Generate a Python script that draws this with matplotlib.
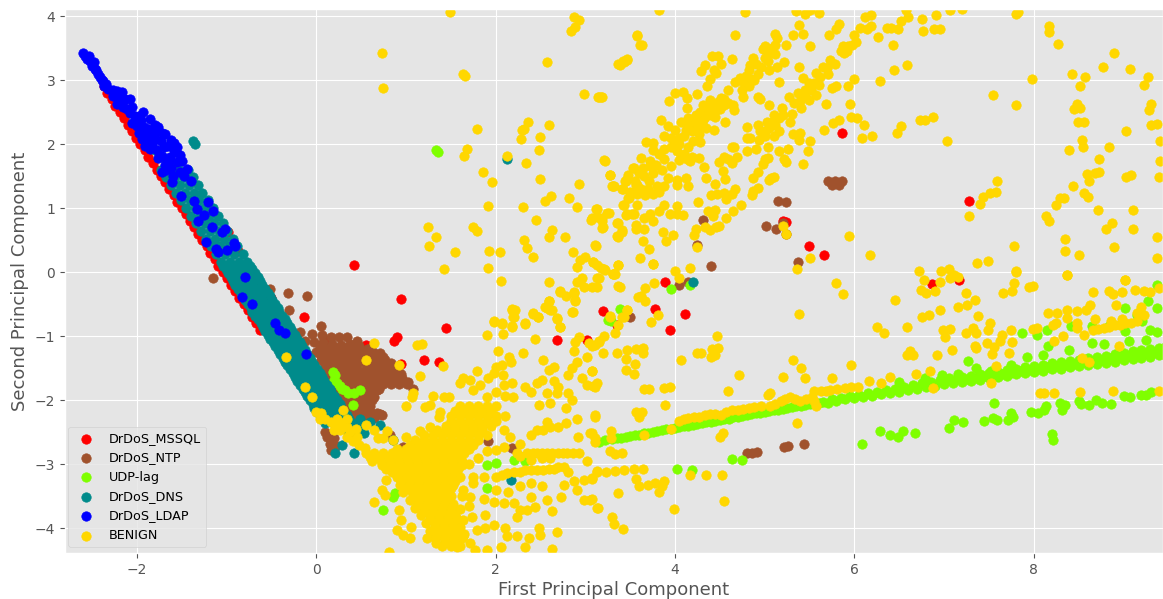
import matplotlib
matplotlib.use("Agg")
import matplotlib.pyplot as plt

labels = ['DrDoS_MSSQL', 'DrDoS_NTP', 'UDP-lag', 'DrDoS_DNS', 'DrDoS_LDAP', 'BENIGN']
colors = ['red', 'sienna', 'chartreuse', 'darkcyan', 'blue', 'gold']

# all values
mssql_edge = [(-2.37,2.9),(-2.33,2.8),(-2.28,2.7),(-2.24,2.6),(-2.19,2.5),(-2.14,2.4),(-2.10,2.3),(-2.05,2.2),
    (-2.01,2.1),(-1.96,2.0),(-1.91,1.9),(-1.87,1.8),(-1.82,1.7),(-1.78,1.6),(-1.73,1.5),(-1.68,1.4),(-1.64,1.3),
    (-1.59,1.2),(-1.55,1.1),(-1.5,1.0),(-1.45,.9),(-1.41,.8),(-1.36,.7),(-1.32,.6),(-1.27,.5),(-1.22,.4),(-1.18,.3),
    (-1.13,.2),(-1.09,.1),(-1.04,0),(-.99,-.1),(-.95,-.2),(-.9,-.3),(-.86,-.4),(-.81,-.5),(-.76,-.6),(-.72,-.7),
    (-.67,-.8),(-.63,-.9),(-.98,.62),(-.87,.33),(-.61,-.21),(-.5,-.4)]
mssql_other = [(.42,.11),(.95,-.42),(-.14,-.71),(.9,-1.01),(.87,-1.07),(1.45,-.88),(.1,-1.06),(.55,-1.14),(.95,-1.43),
    (1.2,-1.38),(1.37,-1.4),(2.68,-1.06),(3.02,-1.06),(3.2,-.61),(3.89,-.15),(3.78,-.58),(4.11,-.66),(3.94,-.91),
    (3.35,-.82),(6.86,-.18),(7.17,-.13),(5.86,2.18),(7.28,1.11),(5.2,.79),(5.24,.78),(5.49,.40),(5.66,.26)]

ntp_blob = [(-.12,-1.08),(-.02,-1.1),(.08,-1.1),(.18,-1.12),(.28,-1.14),(.38,-1.12),(.48,-1.16),(.58,-1.2),
    (0,-1.25),(.09,-1.25),(.18,-1.25),(.27,-1.25),(.36,-1.25),(.45,-1.25),(.54,-1.25),(.63,-1.25),(.71,-1.27),
    (.05,-1.38),(.14,-1.38),(.23,-1.38),(.32,-1.38),(.41,-1.38),(.5,-1.38),(.59,-1.38),(.68,-1.38),(.77,-1.38),(.83,-1.42),
    (.1,-1.51),(.19,-1.51),(.28,-1.51),(.37,-1.51),(.46,-1.51),(.55,-1.51),(.64,-1.51),(.73,-1.51),(.82,-1.51),(.91,-1.53),
    (.15,-1.64),(.24,-1.64),(.33,-1.64),(.42,-1.64),(.51,-1.64),(.6,-1.64),(.69,-1.64),(.78,-1.64),(.87,-1.64),(.96,-1.66),
    (.2,-1.77),(.29,-1.77),(.38,-1.77),(.47,-1.77),(.56,-1.77),(.65,-1.77),(.74,-1.75),(.83,-1.75),(.92,-1.75),(1.01,-1.75),(1.08,-1.82),
    (.25,-1.9),(.34,-1.9),(.43,-1.9),(.52,-1.9),(.61,-1.88),(.68,-1.85),
    (.28,-2.03),(.37,-2.03),(.46,-2.03),(.55,-2.03),(.62,-2.0),
    (.32,-2.16),(.41,-2.16),(.5,-2.16),(.59,-2.16),(.68,-2.2),(.73,-2.23),
    (.37,-2.28),(.46,-2.28),(.55,-2.28),(.64,-2.28),
    (.12,-2.57),(.15,-2.68),(.16,-2.78),(.22,-2.72),(.1,-2.5),(.2,-2.6)]
ntp_fill = [(.04,-1.18),(.13,-1.18),(.22,-1.18),(.31,-1.18),(.4,-1.18),(.49,-1.2),(.58,-1.2),(.05,-1.31),(.14,-1.31),(.23,-1.31),(.32,-1.31),(.41,-1.31),
    (.5,-1.31),(.59,-1.31),(.68,-1.31),(.75,-1.33),(.1,-1.44),(.19,-1.44),(.28,-1.44),(.37,-1.44),(.46,-1.44),(.55,-1.44),(.64,-1.44),(.73,-1.44),(.82,-1.46),
    (.15,-1.57),(.24,-1.57),(.33,-1.57),(.42,-1.57),(.51,-1.57),(.6,-1.57),(.69,-1.57),(.78,-1.57),(.87,-1.57),(.95,-1.6),(.2,-1.7),(.29,-1.7),(.38,-1.7),
    (.47,-1.7),(.56,-1.7),(.65,-1.7),(.74,-1.7),(.83,-1.7),(.92,-1.7),(1.02,-1.72),(.25,-1.83),(.34,-1.83),(.43,-1.83),(.52,-1.83),(.61,-1.83),(.7,-1.83),
    (.3,-1.96),(.39,-1.96),(.48,-1.96),(.57,-1.96),(.64,-1.96),(.33,-2.09),(.42,-2.09),(.51,-2.09),(.6,-2.09),(.36,-2.22),(.45,-2.22),(.54,-2.22),(.63,-2.22),(.71,-2.22)]
ntp_other = [(-.31,-.33),(-.10,-.37),(-.3,-.59),(.05,-.84),(-.18,-.94),(-.05,-.97),(.06,-.98),(.17,-1.01),(.25,-1.02),
    (.34,-1.01),(.45,-1.07),(1.91,-2.64),(2.18,-2.75),(.82,-2.55),(.97,-2.73),(-1.15,-.1),(-.52,-.27),(5.70,1.43),
    (5.78,1.43),(5.86,1.43),(5.75,1.36),(5.83,1.36),(5.15,1.11),(5.24,1.10),(4.31,.81),(5.01,.72),(5.13,.68),(5.2,.77),
    (5.24,.6),(4.24,.43),(4.40,.10),(5.37,.15),(4.05,-.21),(4.15,-.15),(3.5,-.71),(4.8,-2.82),(4.86,-2.82),(4.91,-2.81),
    (5.22,-2.74),(5.26,-2.72),(5.44,-2.68)]

udp_left_x = [3.15,3.22,3.3,3.35,3.4,3.45,3.5,3.55,3.6,3.65,3.7,3.75,3.8,3.85,3.9,3.95,4.0,4.05,4.1,4.15,4.2,4.25,4.3,4.35,4.4,4.45,4.5,4.55,4.6,4.65,
    4.7,4.75,4.8,4.85,4.9,4.95,5.0,5.05,5.1,5.15,5.2,5.25,5.3,5.35,5.4,5.45,5.5,5.55,5.6,5.65]
udp_left_y = [-2.65,-2.63,-2.61,-2.6,-2.59,-2.57,-2.56,-2.55,-2.54,-2.52,-2.51,-2.5,-2.49,-2.47,-2.46,-2.45,-2.44,-2.42,-2.41,-2.4,-2.39,-2.37,-2.36,-2.35,
    -2.34,-2.32,-2.31,-2.3,-2.29,-2.27,-2.26,-2.25,-2.24,-2.22,-2.21,-2.2,-2.19,-2.17,-2.16,-2.15,-2.14,-2.12,-2.11,-2.1,-2.09,-2.07,-2.06,-2.05,-2.04,-2.03]
udp_mid_x_low = [5.7,5.8,5.9,6.0,6.1,6.2,6.3,6.4,6.5,6.6,6.7,6.8,6.9,7.0,7.1]
udp_mid_y_low = [-2.04,-2.02,-1.99,-1.97,-1.95,-1.93,-1.91,-1.89,-1.87,-1.85,-1.82,-1.8,-1.78,-1.75,-1.73]
udp_mid_x_high = [5.75,5.85,5.95,6.05,6.15,6.25,6.35,6.45,6.55,6.65,6.75,6.85,6.95,7.05,7.15]
udp_mid_y_high = [-1.99,-1.97,-1.94,-1.92,-1.89,-1.87,-1.85,-1.82,-1.79,-1.76,-1.74,-1.72,-1.69,-1.66,-1.64]
udp_right_x = [7.2,7.3,7.4,7.5,7.6,7.7,7.8,7.9,8.0,8.1,8.2,8.3,8.4,8.5,8.6,8.7,8.8,8.9,9.0,9.1,9.2,9.3,9.4,9.46]
udp_right_x_mid = [7.25,7.35,7.45,7.55,7.65,7.75,7.85,7.95,8.05,8.15,8.25,8.35,8.45,8.55,8.65,8.75,8.85,8.95,9.05,9.15,9.25,9.35,9.42,9.47]
udp_right_y_low = [-1.72,-1.7,-1.68,-1.66,-1.64,-1.62,-1.6,-1.58,-1.56,-1.54,-1.52,-1.51,-1.49,-1.47,-1.46,-1.44,-1.42,-1.4,-1.38,-1.36,-1.34,-1.32,-1.3,-1.29]
udp_right_y_mid = [-1.67,-1.65,-1.63,-1.61,-1.59,-1.57,-1.55,-1.53,-1.51,-1.49,-1.47,-1.45,-1.43,-1.41,-1.39,-1.37,-1.35,-1.33,-1.31,-1.29,-1.27,-1.25,-1.23,-1.23]
udp_right_y_high = [-1.64,-1.62,-1.6,-1.58,-1.56,-1.53,-1.51,-1.49,-1.47,-1.45,-1.42,-1.41,-1.39,-1.37,-1.35,-1.33,-1.31,-1.28,-1.26,-1.24,-1.22,-1.2,-1.18,-1.17]
udp_other = [(6.5,-1.72),(6.79,-1.66),(6.98,-1.61),(7.16,-1.59),(7.27,-1.39),(7.35,-1.5),(7.52,-1.55),(7.74,-1.46),(7.92,-1.33),
    (8.1,-1.29),(8.16,-1.16),(8.39,-1.22),(8.65,-1.11),(8.78,-1.12),(9.06,-1.08),(9.25,-1.06),(9.29,-.9),(9.37,-.93),(7.87,-.96),
    (8.04,-.99),(8.15,-.91),(8.41,-.85),(8.65,-.85),(8.84,-.85),(9.02,-.92),(9.02,-.56),(9.27,-.46),(9.37,-.56),(9.37,-.2),(9.15,-.67),(9.21,-.77),
    (6.08,-2.68),(6.29,-2.48),(6.4,-2.54),(6.49,-2.57),(6.54,-2.49),(6.68,-2.51),(7.05,-2.43),(7.11,-2.31),(7.21,-2.35),(7.44,-2.32),
    (7.55,-2.28),(7.59,-2.31),(7.56,-2.05),(7.71,-2.31),(7.74,-2.2),(7.77,-2.27),(7.97,-2.18),(8.05,-2.2),(8.11,-2.15),(8.14,-2.1),
    (8.29,-2.05),(8.35,-2.08),(8.31,-2.16),(8.2,-2.53),(8.21,-2.63),(8.5,-2.02),(8.53,-2.06),(8.62,-2.07),(8.69,-2.0),(8.76,-2.04),
    (8.86,-2.06),(9,-1.93),(9.07,-1.95),(9.19,-1.92),(9.25,-1.92),(9.31,-1.88),(4.63,-2.92),(4.75,-2.93),(4.02,-3.07),(4.19,-3.09),
    (3.96,-.26),(4.17,-.2),(3.39,-.57),(3.25,-.75),(3.29,-.77),(1.34,1.91),(1.36,1.88),(.19,-1.56),(.21,-1.61),(.23,-1.74),(.29,-1.82),
    (.36,-1.89),(.42,-1.89),(.49,-1.84),(.41,-2.08),(.32,-1.84),(.26,-1.78),(.2,-1.68),(.74,-3.72),(.86,-3.51),(.88,-3.46),(1.9,-3.38),(2.01,-2.98),(2.2,-2.94),
    (1.9,-3.01),(2.33,-2.96)]

dns_rows_y = [1.6,1.48,1.36,1.24,1.12,1.0,.88,.76,.64,.52,.4,.28,.16,.04,-.08,-.2,-.32,-.44,-.56,-.68,-.8,-.92,-1.04,-1.16,-1.28,-1.4,
    -1.52,-1.64,-1.76,-1.88,-2.0,-2.12,-2.24,-2.36,
    .1,-.02,-.14,-.26,-.38,-.5,-.62,-.74,-.86,-.98,-1.1,-1.22,-1.34,-1.46,-1.58,-1.7,-1.82,-1.94,-2.06,-2.18,-2.3]
dns_rows_x = [(-1.73,-1.63,-1.53,-1.43),(-1.67,-1.57,-1.47,-1.37),(-1.62,-1.52,-1.42,-1.32),(-1.56,-1.46,-1.36,-1.27),
    (-1.51,-1.41,-1.31,-1.21),(-1.45,-1.35,-1.25,-1.15),(-1.40,-1.30,-1.20,-1.10),(-1.34,-1.24,-1.14,-1.04),(-1.28,-1.18,-1.08,-.99),
    (-1.23,-1.13,-1.03,-.93),(-1.17,-1.07,-.97,-.88),(-1.12,-1.02,-.92,-.82),(-1.06,-.96,-.86,-.77),(-1.01,-.91,-.81,-.71),
    (-.95,-.85,-.75,-.65),(-.90,-.80,-.70,-.60),(-.84,-.74,-.64,-.54),(-.79,-.69,-.59,-.49),(-.73,-.63,-.53,-.43),(-.68,-.58,-.48,-.38),
    (-.62,-.52,-.42,-.32),(-.57,-.47,-.37,-.27),(-.51,-.41,-.31,-.21),(-.46,-.36,-.26,-.16),(-.40,-.30,-.20,-.10),(-.35,-.25,-.15,-.05),
    (-.29,-.19,-.09,.01),(-.24,-.14,-.04,.06),(-.18,-.08,.02,.12),(-.13,-.03,.07,.17),(-.07,.03,.13,.23),(-.02,.08,.18,.28),(.04,.14,.24,.34),(.10,.2,.3,.4),
    (-1.04,-.94,-.84,-.74),(-.98,-.88,-.78,-.68),(-.93,-.83,-.73,-.63),(-.87,-.77,-.67,-.57),(-.82,-.72,-.62,-.52),(-.76,-.66,-.56,-.46),(-.71,-.61,-.51,-.41),
    (-.65,-.55,-.45,-.35),(-.59,-.49,-.39,-.29),(-.54,-.44,-.34,-.24),(-.48,-.38,-.28,-.18),(-.43,-.33,-.23,-.13),(-.37,-.27,-.17,-.07),(-.32,-.22,-.12,-.02),
    (-.26,-.16,-.06,.04),(-.21,-.11,-.01,.09),(-.15,-.05,.05,.15),(-.1,0,.1,.2),(-.04,.06,.16,.26),(.01,.11,.21,.31),(.07,.17,.27,.37)]
dns_other = [(.49,-2.29),(.6,-2.34),(.71,-2.39),(.53,-2.52),(.42,-2.83),(.21,-2.82),(.29,-2.7),(.86,-2.63),(2.17,-3.25),(.43,-2.5),
    (.35,-2.5),(.5,-2.4),(-1.37,2.05),(-1.35,2.0),(2.13,1.76),(4.2,-.16),(-1.8,1.9),(-1.72,1.8)]

ldap_pts = [(-2.6,3.42),(-2.56,3.33),(-2.48,3.28),(-2.45,3.15),(-2.41,3.04),(-2.34,2.94),(-2.32,2.86),(-2.22,2.83),(-2.17,2.81),
    (-2.22,2.63),(-2.08,2.70),(-2.11,2.55),(-2.02,2.44),(-1.93,2.50),(-1.85,2.39),(-1.98,2.18),(-1.87,2.23),(-1.76,2.26),(-1.68,2.16),
    (-1.91,1.97),(-1.8,2.08),(-1.65,1.97),(-1.57,1.87),(-1.50,1.74),(-1.72,1.82),(-1.72,1.56),(-1.61,1.40),(-1.52,1.56),(-1.44,1.61),
    (-1.39,1.43),(-1.51,1.19),(-1.36,1.11),(-1.21,1.09),(-1.33,.98),(-1.25,.89),(-1.15,.96),(-1.32,.80),(-1.16,.70),(-1.05,.63),(-1.02,.67),
    (-1.23,.47),(-1.12,.36),(-1.09,.31),(-.99,.35),(-.92,.46),(-.9,.40),(-.79,-.08),(-.83,-.39),(-.71,-.5),(-.46,-.8),(-.41,-.91),(-.35,-.95),
    (-.11,-1.28),(-2.58,3.38),(-2.53,3.38),(-2.52,3.3),(-2.5,3.22),(-2.47,3.18),(-2.43,3.1),(-2.39,3.0),(-2.38,2.98),(-2.36,2.9),(-2.27,2.75),(-2.27,2.85),(-2.2,2.73),
    (-2.15,2.68),(-2.05,2.58),(-2.13,2.7),(-2.15,2.58),(-2.08,2.48),(-1.95,2.38),(-2.05,2.33),(-1.97,2.44),(-2.0,2.28),(-1.92,2.27),(-1.8,2.2),(-1.83,2.0),(-1.73,2.05),(-1.78,1.9),
    (-1.63,1.8),(-1.55,1.72),(-1.62,1.62),(-1.68,1.68),(-1.58,2.02),(-1.98,2.32),(-1.88,2.1),(-1.8,2.3),(-1.72,2.18),(-1.62,2.06),(-1.7,1.95),(-1.76,1.78),(-1.85,1.93),(-1.94,2.08),
    (-1.9,2.15),(-1.82,2.12),(-1.55,1.95),(-1.52,1.83),(-1.65,1.72),(-1.6,1.5),(-1.47,1.5),(-1.67,1.6),(-1.58,1.9)]

benign_top = [(3.82,4.10),(4.78,4.06),(3.58,3.70),(3.63,3.55),(4.67,3.70),(3.37,3.25),(3.42,3.29),(3.47,3.33),(3.15,2.74),(3.17,2.74),
    (3.21,1.75),(3.27,1.52),(3.31,1.35),(3.44,1.43),(3.41,1.30),(3.43,1.05),(3.49,1.16),(3.58,1.22),(3.66,1.2),(3.76,1.22),(3.82,1.25),
    (3.88,1.05),(3.58,1.36),(3.71,1.43),(3.46,1.45),(3.53,1.63),(3.64,1.62),(3.62,1.78),(3.72,1.74),(3.79,1.67),(3.88,1.76),(3.92,1.47),
    (4.02,1.36),(4.12,1.47),(3.88,1.34),(4.02,1.44),(4.14,1.34),(3.3,1.34),(3.58,1.05),(3.68,2.03),(3.75,2.02),(3.75,1.9),(3.88,1.93),
    (3.88,2.12),(4.02,1.89),(4.04,2),(3.92,2.28),(4,2.22),(4.07,2.35),(4.14,2.41),(3.96,2.09),(4.1,2.12),(3.84,2.37),(3.93,2.68),(4,2.8),
    (4.09,2.81),(4.13,2.72),(4.13,2.56),(4.24,2.78),(4.17,1.73),(4.13,1.76),(4.27,1.78),(4.32,1.64),(4.19,1.79),(4.19,2.2),(4.27,2.36),
    (4.35,2.46),(4.31,2.61),(4.43,2.61),(4.51,2.72),(4.59,2.85),(4.45,2.51),(4.55,2.61),(4.65,2.61),(4.66,2.53),(4.39,2.69),(4.27,2.15),
    (4.35,2.25),(4.44,2.22),(4.56,2.35),(4.28,2.03),(4.23,2.46),(4.31,2.38),(4.37,2.54),(4.59,2.64),(4.36,2.91),(4.39,3.01),(4.46,3.11),
    (4.43,3.16),(4.33,3.23),(4.29,3.14),(4.41,3.37),(4.48,3.38),(4.51,3.25),(4.63,3.33),(4.76,2.74),(4.92,2.74),(4.95,2.7),(5.05,2.61),
    (4.67,2.97),(4.73,3.03),(4.79,3.06),(4.85,3.02),(4.76,2.97),(4.82,3.15),(4.84,3.24),(4.87,3.34),(4.96,3.2),(5.04,3.29),(5.12,3.41),
    (5,3.53),(4.98,3.48),(5.12,3.55),(5.14,3.66),(5.11,3.72),(5.05,3.15),(5.14,3.2),(5.22,3.28),(5.24,3.54),(5.38,3.86),(5.5,3.53),(5.32,3.7),
    (5.43,3.72),(5.16,2.97),(5.38,3.2),(4.8,2.27),(4.93,2.29),(4.8,2.1),(4.84,2.09),(4.8,1.89),(4.9,1.93),(4.94,2.07),(5,2.12),(5.04,1.95),
    (5.1,2.12),(5.16,2.2),(5.02,2.35),(5.1,2.45),(5.19,2.56),(5.16,2.4),(5.28,2.35),(5.3,2.47),(5.16,1.89),(5.26,1.93),(5.22,1.76),(5.24,1.72),
    (5.31,2.15),(5.39,2.17),(5.38,2.07),(5.5,2.04),(5.48,1.89),(5.43,1.69),(5.27,2.74),(5.37,2.8),(5.39,2.67),(5.33,2.64),(5.41,2.56),(5.49,2.69),
    (5.57,2.77),(5.45,2.85),(5.49,2.95),(5.43,3.03),(5.57,3.11),(5.61,2.93),(5.69,3.19),(5.65,3.2),(5.78,3.25),(5.73,3.32),(5.85,3.45),(5.87,3.53),
    (5.93,3.53),(6.02,3.6),(6,3.71),(6.06,3.81),(6.14,3.79),(6.18,3.84),(6.12,3.98),(6.18,4.02),(5.83,3.88),(5.79,3.79),(5.72,3.71),(5.68,2.63),
    (5.75,2.88),(5.79,2.91),(5.93,2.91),(6,3.01),(5.76,2.33),(5.83,2.38),(5.96,2.42),(6.03,2.41),(6.11,2.3),(5.66,2.22),(6.09,2.09),(6.2,2.13),
    (5.95,2.63),(6.28,2.98),(6.44,3.16),(6.59,3.24),(6.43,3.54),(6.26,3.68),(6.36,3.82),(6.41,3.82),(6.49,3.79),(6.52,3.93),(6.6,3.98),(6.57,4.1),
    (6.75,3.96),(6.77,3.76),(6.89,3.79),(6.95,3.8),(6.91,4.02),(7.07,4.1),(7.2,4.11),(7.8,4.03),(7.82,4.07),(5.35,4.08),(5.5,4.1),(5.6,4.05),(5.45,4.03),
    (8.17,3.84),(8.17,3.75),(8.27,3.57),(8.89,3.42),(8.77,3.2),(9.07,3.18),(9.27,3.05),(9.23,2.92),(7.98,3.02),(8.43,3.09),(8.57,3.05),(8.51,2.9),
    (7.55,2.77),(7.8,2.61),(7.03,2.04),(6.73,2.37),(6.79,2.38),(6.88,2.43),(6.52,2.28),(6.47,2.18),(8.48,2.63),(8.45,2.55),(8.52,2.56),(8.49,2.34),
    (8.56,2.34),(8.54,2.07),(8.55,1.95),(8.39,1.9),(8.73,1.76),(8.84,1.95),(9.03,2.21),(9.31,2.63),(9.28,2.53),(9.31,2.3),(9.37,2.31),(9.41,2.04),(9.41,1.74),
    (8.73,1.57),(8.68,1.55),(8.59,1.53),(8.62,1.42),(9.03,1.48),(9.08,1.52),(9.39,1.48),(8.44,1.34),(8.56,1.23),(8.6,1.17),(8.25,1.05),(8.29,1.16),(8.34,1.15),
    (8.72,.97),(9.1,.97),(8.14,.88),(8.17,.79),(7.59,1.43),(7.58,1.25),(7.51,1.23),(7.43,1.17),(7.4,1.07),(7.28,.87),(5.94,.57),(7.78,.41),(8.35,.52),
    (8.35,.33),(8.5,.26),(8.89,.39),(8.8,.68),(8.87,.76),(9.1,.68),(9.37,.54),(6.17,.26),(5.5,.22),(5.36,.05),(7.8,.01),(8.37,-.04),(9.37,.22),(9.02,-.12),
    (4.4,1.21),(4.47,1.22),(4.55,1.23),(4.57,1.14),(4.63,1.22),(4.67,1.3),(4.56,1.46),(4.53,1.58),(4.49,1.72),(4.59,1.76),(4.69,1.79),(4.63,1.71),(4.35,1.47),
    (4.45,1.37),(4.26,1.1),(4.74,1.05),(4.65,.95),(4.45,.97),(4.42,.88),(4.37,.95),(4.57,.85),(4.46,.7),(4.49,.72),(4.39,.66),(4.33,.7),(4.23,.68),(4.21,.58),
    (4.02,1.03),(3.94,.91),(4.02,.9),(4.09,.89),(4.93,1.57),(4.87,1.47),(5.07,1.47),(5.1,1.49),(5.05,1.44),(4.92,1.32),(4.87,1.26),(4.86,1.21),(4.55,1.79),
    (4.63,1.95),(4.66,1.96),(5,1.76),(5.04,1.78),(4.98,1.69),(5.24,.6),(4.24,.39),(5.2,.72)]

benign_left = [(3.12,.99),(3.24,.92),(3.07,.84),(3.19,.79),(3.19,.69),(3.35,.77),(3.41,.65),(3.35,.56),(3.11,.43),(3.46,.9),(3.52,.91),(3.56,.74),
    (3.65,.68),(3.76,.79),(3.82,.96),(3.72,.9),(3.65,.84),(3.87,.62),(3.98,.58),(3.9,.49),(3.64,.49),(3.71,.36),(3.61,.22),(3.76,.13),(3.37,.11),(3.09,.16),
    (3.17,.06),(3.31,-.03),(1.49,4.06),(.73,3.43),(.75,2.88),(1.64,3.1),(1.66,3.07),(2.87,3.98),(2.93,3.94),(2.89,3.83),(2.84,3.76),(3.58,3.69),(3.61,3.54),
    (2.57,3.28),(3.39,3.24),(3.43,3.28),(3.47,3.31),(2.98,2.78),(3.14,2.74),(3.19,2.74),(2.36,2.34),(2.32,2.23),(2.29,2.22),(2.6,2.29),(2.5,2.11),(2.28,2.08),
    (1.79,2.24),(1.68,1.93),(1.65,1.81),(2.13,1.82),(2.34,1.7),(2.48,1.9),(1.86,1.57),(1.96,1.4),(2.49,1.46),(1.91,1.03),(2.3,1.01),(2.55,1.11),(2.62,1.19),
    (2.45,.82),(2.93,1.38),(2.82,1.15),(2.91,1.01),(3.22,1.74),(3.28,1.51),(1.25,.7),(1.34,.55),(1.26,.41),(1.75,.7),(1.79,.64),(1.55,.31),(1.43,.05),(1.93,.33),
    (2.05,.32),(1.92,.06),(2.63,.66),(2.59,.55),(2.32,.5),(2.35,.37),(2.42,.23),(2.77,.55),(2.86,.31),(3.12,.41),(3.13,.98),(3.06,.81),(3.13,.86),(3.19,.84),
    (3.26,.92),(3.2,.71),(3.36,.76),(3.41,.63),(3.36,.54),(3.45,.89),(3.54,.91),(3.56,.68),(3.42,1.05),(3.48,1.15),(3.54,1.25),(3.56,1.36),(3.45,1.42),(3.32,1.35),
    (3.42,1.3),(3.54,1.62),(3.0,.24),(2.94,.19),(2.91,.08),(3.09,.16),(3.13,.11),(3.22,.03),(3.32,-.03),(3.37,.11),(2.06,-.14),(2.6,-.15),(2.72,-.29),(2.78,-.38),
    (2.87,-.31),(2.89,-.45),(2.6,-.45),(2.57,-.56),(2.96,-.1),(2.91,-.16),(2.99,-.24),(3.07,-.24),(3.13,-.24),(3.15,-.09),(3.39,-.24),(3.33,-.03),(2.18,-.6),(2.2,-.7),
    (2.42,-.66),(2.47,-.7),(2.63,-.6),(2.68,-.73),(2.86,-.62),(1.98,-.78),(2.07,-.8),(2.18,-.86),(2.33,-.8),(2.72,-.86),(3.59,-.39),(3.28,-.7),(3.47,-.6),(3.43,-.7)]

benign_right = [(3.21,.04),(3.31,-.03),(3.13,-.09),(3.37,-.22),(3.76,.12),(4,.01),(4.05,-.09),(4.17,.06),(3.77,-.17),(3.66,-.25),(3.62,-.37),(3.67,-.46),
    (3.46,-.59),(3.41,-.7),(3.27,-.68),(3.37,-.82),(3.73,-.78),(3.81,-.67),(3.33,-.95),(3.21,-1),(3.15,-1.08),(3.08,-1.15),(4.47,-1),(4.48,-1.19),(4.41,-1.21),
    (4.45,-1.29),(4.4,-1.32),(4.29,-1.26),(4.24,-1.26),(4.07,-1.37),(3.2,-1.27),(3.35,-1.27),(3.46,-1.22),(3.56,-1.2),(3.64,-1.19),(3.64,-1.27),(3.45,-1.36),
    (3.55,-1.43),(3.45,-1.53),(3.54,-1.59),(3.07,-1.54),(3.09,-1.78),(3.13,-1.74),(3.65,-1.83),(3.71,-1.82),(3.88,-1.81),(3.94,-1.8),(3.89,-2.07),(3.56,-2.19),
    (3.63,-2.19),(3.6,-2.27),(3.11,-2.24),(4.59,-1.86),(4.71,-1.61),(5.04,-1.92),(5.06,-1.89),(5.2,-1.64),(5.32,-1.38),(5.4,-1.5),(5.45,-1.65),(5.75,-1.66),(5.96,-1.46),
    (5.79,-.17),(5.87,-.35),(5.38,-.65),(4.04,-2.32),(4.1,-2.3),(4.15,-2.28),(4.21,-2.27),(4.27,-2.26),(4.33,-2.24),(4.39,-2.22),(4.45,-2.22),(4.51,-2.23),(4.57,-2.19),(4.63,-2.16),(4.7,-2.15),(4.76,-2.14),(4.82,-2.12),
    (4.88,-2.11),(4.96,-2.1),(5.06,-2.1),(5.12,-2.06),(5.18,-2.02),(5.23,-1.98),(5.28,-1.95),(5.34,-1.98),(5.39,-2.01),(5.46,-1.99),(5.53,-1.96),(5.55,-1.86),(5.63,-1.86),(5.68,-1.86),(5.73,-1.85),(5.81,-1.83),(5.89,-1.81),(5.96,-1.8),(6.04,-1.79),(6.16,-1.71),(6.3,-1.73),(6.4,-1.64),(5.57,-2.1),
    (5.55,-2.02),(3.96,-2.45),(3.65,-2.54),(3.29,-2.59),(3.29,-2.49),(3.07,-2.52),(3.11,-2.65),(4.5,-2.57),(4.53,-2.52),(5.36,-2.36),(3.28,-2.79),(3.33,-2.85),(3.41,-2.82),
    (3.13,-3.11),(3.23,-3.13),(3.33,-3.11),(3.43,-3.09),(3.54,-3.07),(3.64,-3.07),(3.07,-3.23),(3.56,-3.23),(3.6,-3.35),(3.7,-3.32),(3.78,-3.3),(3.88,-3.27),(3.82,-3.43),
    (3.86,-3.35),(4.17,-3.17),(4.35,-3.17),(4.52,-3.17),(3.36,-3.45),(4.55,-3.58),(3.99,-3.7),(3.07,-3.55),(3.14,-3.69),(3.3,-3.82),(3.32,-3.94),(3.42,-4.01),(6.69,-1.6),
    (6.84,-1.55),(6.88,-1.81),(6.25,-.86),(6.33,-.95),(6.59,-.86),(6.45,-.43),(6.75,-.7),(6.83,-.67),(6.95,-.59),(6.72,.01),(6.78,-.13),(6.74,-.28),(6.8,-.33),(6.9,-.3),
    (6.97,.01),(7.05,.05),(7.11,-.04),(6.95,-.15),(7.07,-.09),(7.16,-.08),(7.24,-.33),(7.34,-.43),(7.15,-.54),(7.25,-.51),(7.38,-.68),(7.51,-.79),(7.49,-.91),(6.99,-.91),
    (7.07,-.89),(7.01,-1.02),(7.24,-.95),(7.32,-.88),(7.36,-.95),(6.62,-1.24),(6.59,-1.3),(6.65,-1.29),(6.92,-1.3),(7.09,-1.22),(7.34,-1.15),(7.36,-1.19),(7.48,-1.11),
    (7.56,-1.17),(7.62,-1.08),(7.64,-.98),(7.74,-.91),(7.76,-1.09),(7.72,-1.26),(7.53,-1.28),(7.37,.14),(7.49,.17),(7.8,0),(7.78,-.17),(7.66,-.32),(7.76,-.29),(7.95,-.23),
    (7.99,-.22),(8.37,-.04),(7.58,-1.47),(7.52,-1.74),(8.07,-1.89),(8.11,-1.89),(8.23,-1.89),(8.52,-1.88),(8.88,-1.86),(9.39,-1.86),(8.54,-1.35),(8.62,-1.4),(8.95,-1.15),
    (7.99,-.89),(8.03,-.88),(8.23,-1.08),(8.33,-1),(8.21,-.82),(8.25,-.8),(8.16,-.64),(8.26,-.64),(8.37,-.59),(8.48,-.61),(8.58,-.59),(8.63,-.51),(8.37,-.72),(8.48,-.8),
    (8.48,-.88),(8.56,-.98),(8.66,-.9),(8.72,-.89),(8.78,-.88),(8.84,-.86),(8.9,-.83),(8.96,-.82),(9.02,-.8),(9.08,-.79),(9.15,-.77),(8.68,-.74),(8.86,-.77),(8.98,-.74),(9.15,-.64),(9.23,-.67),(8.66,-.31),(8.84,-.3),
    (8.88,-.34),(8.98,-.31),(9.13,-.28),(9.23,-.29),(9.29,-.31),(9.39,-.25),(8.92,-.51),(9.19,-.54),(9.02,-.12)]

benign_cloud = [(1.98,-.77),(2.07,-.81),(2.18,-.58),(2.22,-.6),(2.19,-.7),(2.18,-.85),(2.33,-.81),(2.42,-.64),(2.47,-.70),(1.9,-.98),(2.08,-.97),(2.44,-1.05),
    (2.55,-.54),(2.61,-.59),(2.6,-.45),(2.68,-.72),(2.72,-.86),(2.85,-.62),(2.89,-.44),(2.72,-.31),(2.87,-.32),(2.93,-1.01),(2.89,-1.09),(2.87,-1.23),(3.04,-1.11),
    (3.11,-1.14),(3.15,-1.09),(2.03,-1.24),(2.15,-1.32),(2.3,-1.26),(2.17,-1.4),(2.01,-1.48),(1.98,-1.58),(2.07,-1.45),(1.79,-1.55),(1.64,-1.66),(1.6,-1.74),(1.72,-1.68),
    (1.83,-1.76),(1.75,-1.84),(1.92,-1.66),(2.08,-1.61),(2.09,-1.76),(2.18,-1.74),(2.33,-1.79),(2.53,-1.38),(2.6,-1.53),(2.65,-1.48),(2.52,-1.69),(2.46,-1.74),(2.4,-1.87),
    (2.65,-1.71),(2.7,-1.79),(2.91,-1.4),(2.85,-1.5),(2.81,-1.61),(3.02,-1.32),(3.07,-1.55),(2.96,-1.66),(3.02,-1.76),(3.11,-1.79),(1.9,-1.95),(2.01,-1.87),(2.11,-1.94),
    (2.19,-1.95),(2.57,-1.89),(2.68,-1.89),(2.81,-1.89),(2.85,-2.0),(2.79,-2.13),(2.61,-2.05),(2.48,-2.08),(2.91,-2.29),(2.7,-2.42),(2.57,-2.34),(2.78,-2.36),(2.46,-2.47),
    (2.39,-2.55),(2.53,-2.47),(2.61,-2.42),(2.92,-2.57),(3.05,-2.52),(3.11,-2.6),(3.11,-2.26),(.64,-1.11),(.55,-1.37),(.92,-1.45),(1.12,-1.14),(1.18,-1.13),(1.41,-1.47),
    (1.16,-1.62),(1.08,-1.89),(1.07,-1.96),(1.3,-1.94),(1.42,-1.95),(1.48,-1.96),(1.0,-2.1),(1.27,-2.07),(1.21,-2.11),(1.38,-2.18),(1.37,-2.27),(-.34,-1.33),(-.12,-1.79),
    (-.05,-1.96),(.30,-2.16),(0,-2.18),(.04,-2.29),(.16,-2.34),(.23,-2.29),(.34,-2.29),(.27,-2.47),(.34,-2.57),(.45,-2.57),(.55,-2.39),(.64,-2.47),(.79,-2.49),(.69,-2.6),
    (.75,-2.6),(.86,-2.63),(1.0,-2.57),(.1,-2.3),(.05,-2.2),(.22,-2.4),(.3,-2.42),(.38,-2.5),(.41,-2.64),(.48,-2.7),(.54,-2.75),(.28,-2.36),(.2,-2.47),(.34,-2.42),(.44,-2.45),
    (1.6,-2.1),(1.7,-2.1),(1.8,-2.1),(1.9,-2.1),(2.0,-2.1),(1.5,-2.25),(1.6,-2.25),(1.7,-2.25),(1.8,-2.25),(1.9,-2.25),(2.0,-2.25),(2.1,-2.25),
    (1.55,-2.17),(1.65,-2.17),(1.75,-2.17),(1.85,-2.17),(1.95,-2.17),(1.5,-2.32),(1.6,-2.32),(1.7,-2.32),(1.8,-2.32),(1.9,-2.32),(2.0,-2.32),
    (1.45,-2.4),(1.55,-2.4),(1.65,-2.4),(1.75,-2.4),(1.85,-2.4),(1.95,-2.4),(1.16,-2.49),(1.27,-2.42),(1.35,-2.47),(1.45,-2.47),(1.55,-2.47),(1.65,-2.47),(1.75,-2.47),(1.85,-2.47),
    (1.2,-2.55),(1.3,-2.55),(1.4,-2.55),(1.5,-2.55),(1.6,-2.55),(1.7,-2.55),(1.8,-2.55),(1.9,-2.55),(1.1,-2.62),(1.2,-2.62),(1.3,-2.62),(1.4,-2.62),(1.5,-2.62),(1.6,-2.62),(1.7,-2.62),(1.8,-2.62),
    (1.05,-2.7),(1.15,-2.7),(1.25,-2.7),(1.35,-2.7),(1.45,-2.7),(1.55,-2.7),(1.65,-2.7),(1.75,-2.7),(.9,-2.77),(1.0,-2.77),(1.1,-2.77),(1.2,-2.77),(1.3,-2.77),(1.4,-2.77),(1.5,-2.77),(1.6,-2.77),(1.7,-2.77),
    (.55,-2.83),(.65,-2.83),(.75,-2.83),(.85,-2.83),(.95,-2.83),(1.05,-2.83),(1.15,-2.83),(1.25,-2.83),(1.35,-2.83),(1.45,-2.83),(1.55,-2.83),(1.65,-2.83),
    (.6,-2.89),(.7,-2.89),(.8,-2.89),(.9,-2.89),(1.0,-2.89),(1.1,-2.89),(1.2,-2.89),(1.3,-2.89),(1.4,-2.89),(1.5,-2.89),(1.6,-2.89),
    (.62,-2.95),(.72,-2.95),(.82,-2.95),(.92,-2.95),(1.02,-2.95),(1.12,-2.95),(1.22,-2.95),(1.32,-2.95),(1.42,-2.95),(1.52,-2.95),(1.62,-2.95),
    (.73,-3.01),(.83,-3.01),(.93,-3.01),(1.03,-3.01),(1.13,-3.01),(1.23,-3.01),(1.33,-3.01),(1.43,-3.01),(1.53,-3.01),(1.63,-3.01),
    (.78,-3.07),(.88,-3.07),(.98,-3.07),(1.08,-3.07),(1.18,-3.07),(1.28,-3.07),(1.38,-3.07),(1.48,-3.07),(1.58,-3.07),
    (.85,-3.13),(.95,-3.13),(1.05,-3.13),(1.15,-3.13),(1.25,-3.13),(1.35,-3.13),(1.45,-3.13),(1.55,-3.13),
    (.9,-3.2),(1.0,-3.2),(1.1,-3.2),(1.2,-3.2),(1.3,-3.2),(1.4,-3.2),(1.5,-3.2),(1.6,-3.2),
    (.95,-3.26),(1.05,-3.26),(1.15,-3.26),(1.25,-3.26),(1.35,-3.26),(1.45,-3.26),(1.55,-3.26),
    (.93,-3.32),(1.03,-3.32),(1.13,-3.32),(1.23,-3.32),(1.33,-3.32),(1.43,-3.32),(1.53,-3.32),
    (1.0,-3.38),(1.1,-3.38),(1.2,-3.38),(1.3,-3.38),(1.4,-3.38),(1.5,-3.38),
    (.97,-3.44),(1.07,-3.44),(1.17,-3.44),(1.27,-3.44),(1.37,-3.44),(1.47,-3.44),
    (1.1,-3.5),(1.2,-3.5),(1.3,-3.5),(1.4,-3.5),(1.5,-3.5),
    (1.05,-3.56),(1.15,-3.56),(1.25,-3.56),(1.35,-3.56),(1.45,-3.56),
    (1.13,-3.62),(1.23,-3.62),(1.33,-3.62),(1.43,-3.62),(1.53,-3.62),
    (1.1,-3.68),(1.2,-3.68),(1.3,-3.68),(1.4,-3.68),(1.5,-3.68),
    (1.2,-3.74),(1.3,-3.74),(1.4,-3.74),(1.5,-3.74),
    (1.17,-3.8),(1.27,-3.8),(1.37,-3.8),(1.47,-3.8),(1.55,-3.8),
    (1.27,-3.86),(1.37,-3.86),(1.47,-3.86),(1.57,-3.86),
    (1.22,-3.92),(1.32,-3.92),(1.42,-3.92),(1.52,-3.92),
    (1.32,-3.98),(1.42,-3.98),(1.52,-3.98),(1.6,-3.98),
    (1.27,-4.04),(1.37,-4.04),(1.47,-4.04),(1.57,-4.04),
    (1.35,-4.1),(1.45,-4.1),(1.55,-4.1),(1.65,-4.1),
    (1.32,-4.16),(1.42,-4.16),(1.52,-4.16),(1.62,-4.16),(1.4,-4.28),(1.5,-4.28),(1.6,-4.28),(1.45,-4.22),(1.55,-4.22)]

benign_arms = [(2.09,-2.47),(2.16,-2.57),(2.09,-2.73),(2.01,-2.78),(2.27,-2.68),(2.35,-2.83),(2.46,-2.83),(2.57,-2.83),(2.7,-2.83),(2.8,-2.83),(2.93,-2.83),(2.61,-2.91),
    (3.02,-2.95),(2.24,-2.83),(2.27,-2.88),(2.4,-2.94),(2.52,-2.91),(1.87,-3.2),(2.01,-3.2),(2.13,-3.14),(2.27,-3.12),(2.39,-3.09),(2.53,-3.09),(2.65,-3.07),(2.76,-3.04),
    (2.81,-3.12),(1.75,-3.2),(2.01,-3.41),(2.14,-3.43),(2.27,-3.35),(2.4,-3.3),(2.52,-3.35),(2.76,-3.33),(2.87,-3.27),(2.98,-3.25),(3.07,-3.22),(2.91,-3.41),(2.98,-3.56),
    (3.05,-3.56),(3.13,-3.12),(2.73,-3.52),(3.13,-3.69),(1.64,-3.41),(1.72,-3.51),(1.87,-3.54),(1.98,-3.59),(2.09,-3.61),(2.2,-3.61),(2.27,-3.72),(2.24,-3.82),(2.35,-3.72),
    (2.44,-3.67),(2.57,-3.56),(2.63,-3.74),(2.39,-3.51),(1.64,-3.87),(1.74,-3.82),(1.88,-3.8),(1.79,-4.03),(1.98,-3.95),(2.11,-4.0),(2.13,-4.13),(2.24,-4.13),(2.33,-4.29),
    (2.48,-4.0),(2.5,-4.11),(2.37,-4.16),(2.68,-4.06),(2.63,-4.33),(2.06,-4.29),(1.64,-4.13),(1.72,-4.24),(1.88,-4.0),(1.9,-4.34),(1.77,-4.34),(1.57,-4.29),(.64,-3.6),(.73,-3.41),
    (.77,-3.48),(.92,-3.72),(.95,-3.87),(.9,-4.03),(.97,-4.11),(1.05,-4.16),(1.06,-3.98),(1.23,-4.16),(1.34,-4.24),(.81,-4.37),(.78,-3.25),
    (1.7,-3.0),(1.8,-2.9),(1.9,-2.8),(1.75,-3.3),(1.62,-3.5),(1.7,-3.65),(1.6,-3.7),(2.42,-2.83),(2.52,-2.83),(2.63,-2.83),(2.75,-2.83),(2.86,-2.83),(2.07,-3.17),(2.2,-3.13),(2.33,-3.1),
    (2.46,-3.09),(2.59,-3.08),(2.7,-3.05)]

benign_dense = [(3.5,1.25),(3.62,1.3),(3.7,1.3),(3.8,1.35),(3.55,1.42),(3.65,1.5),(3.75,1.55),(3.85,1.6),(3.95,1.65),(4.05,1.75),(4.1,1.85),(4.15,1.95),(4.2,2.05),(4.25,2.25),
    (4.3,2.3),(4.33,2.42),(4.4,2.45),(4.45,2.42),(4.5,2.55),(4.4,2.55),(4.48,2.65),(4.55,2.7),(4.28,2.5),(4.35,2.58),(4.22,2.35),(4.15,2.3),(4.12,2.22),(4.05,2.1),(4.0,2.0),
    (3.95,1.95),(3.82,1.85),(3.72,1.65),(3.48,1.52),(3.6,1.55),(4.75,2.85),(4.82,2.9),(4.88,3.0),(4.92,3.1),(4.9,3.25),(5.0,3.35),(5.05,3.42),(5.08,3.5),
    (5.0,2.2),(5.05,2.25),(5.08,2.35),(5.12,2.3),(5.2,2.45),(4.95,2.2),(5.45,2.75),(5.52,2.85),(5.55,2.95),(5.62,3.05),(5.7,3.1),(5.88,3.42),(5.92,3.45),(5.97,3.55)]


def split(*groups):
    xs, ys = [], []
    for group in groups:
        for x, y in group:
            xs.append(x)
            ys.append(y)
    return xs, ys


dns_x = [x for row in dns_rows_x for x in row]
dns_y = [y for y, row in zip(dns_rows_y, dns_rows_x) for x in row]
dns_ox, dns_oy = split(dns_other)
udp_ox, udp_oy = split(udp_other)

series = [
    split(mssql_edge, mssql_other),
    split(ntp_blob, ntp_fill, ntp_other),
    (udp_left_x + udp_mid_x_low + udp_mid_x_high + udp_right_x + udp_right_x_mid + udp_right_x + udp_ox,
     udp_left_y + udp_mid_y_low + udp_mid_y_high + udp_right_y_low + udp_right_y_mid + udp_right_y_high + udp_oy),
    (dns_x + dns_ox, dns_y + dns_oy),
    split(ldap_pts),
    split(benign_top, benign_left, benign_right, benign_cloud, benign_arms, benign_dense),
]

plt.style.use('ggplot')
fig = plt.figure(figsize=(11.63, 5.99), dpi=100)
ax = fig.add_axes([65 / 1163, 46 / 599, 1098 / 1163, 544 / 599])

for (xs, ys), label, color in zip(series, labels, colors):
    ax.scatter(xs, ys, c=color, label=label, s=46)

ax.set_xlim(-2.8, 9.44)
ax.set_ylim(-4.39, 4.11)
ax.set_xticks([-2, 0, 2, 4, 6, 8])
ax.set_yticks([-4, -3, -2, -1, 0, 1, 2, 3, 4])
ax.tick_params(labelsize=10)
ax.set_xlabel('First Principal Component', fontsize=13, labelpad=3)
ax.set_ylabel('Second Principal Component', fontsize=13)
ax.legend(loc='lower left', bbox_to_anchor=(0.003, 0.011), borderaxespad=0, fontsize=9.2)

fig.savefig('out.png', dpi=100)
